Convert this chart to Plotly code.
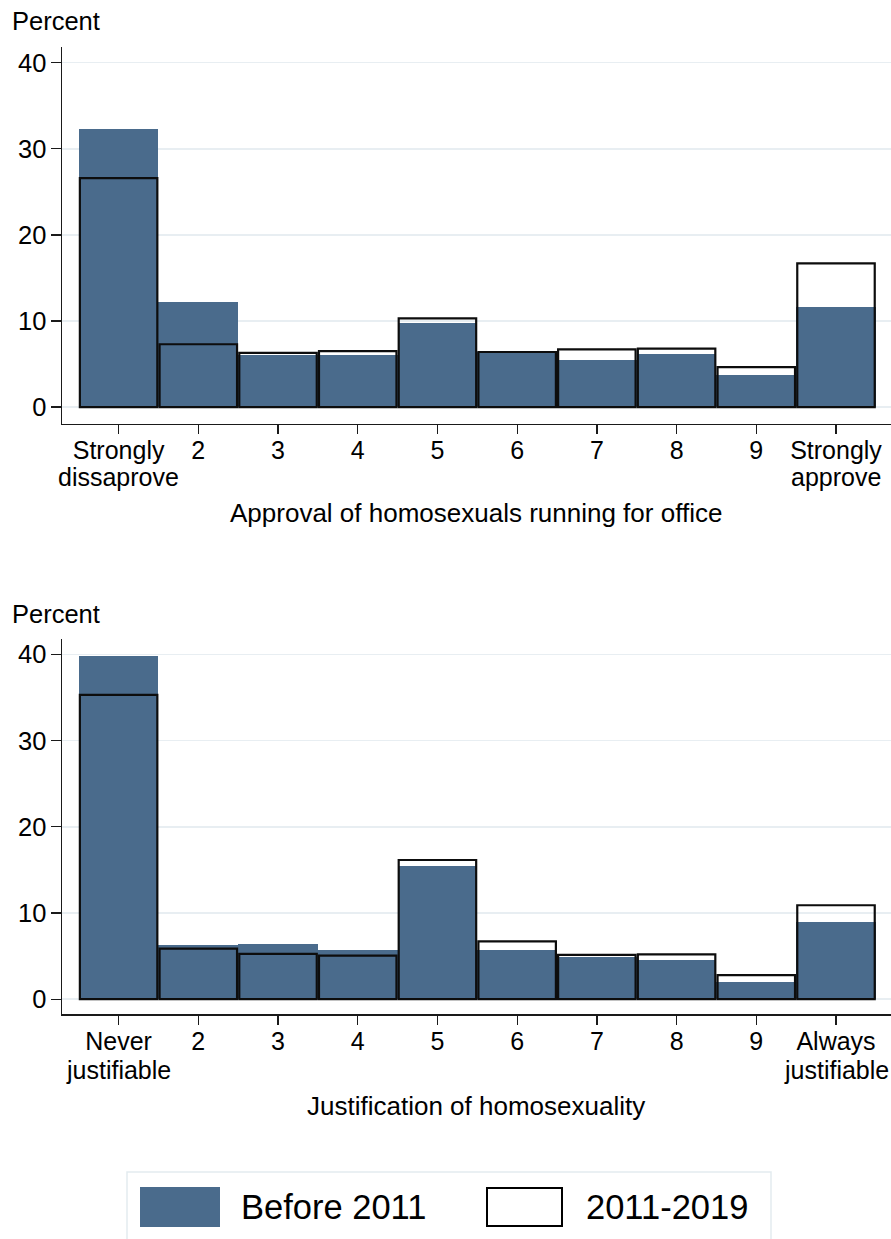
import plotly.graph_objects as go

# ---------------- data ----------------
categories = [1, 2, 3, 4, 5, 6, 7, 8, 9, 10]

office_before_2011 = [32.3, 12.2, 6.0, 6.1, 9.8, 6.35, 5.5, 6.2, 3.75, 11.6]
office_2011_2019 = [26.6, 7.3, 6.3, 6.5, 10.3, 6.4, 6.7, 6.8, 4.65, 16.7]

justif_before_2011 = [39.8, 6.26, 6.4, 5.7, 15.5, 5.7, 4.87, 4.55, 2.0, 8.96]
justif_2011_2019 = [35.3, 5.87, 5.25, 5.05, 16.15, 6.7, 5.15, 5.2, 2.8, 10.9]

office_ticks_line1 = ["Strongly", "2", "3", "4", "5", "6", "7", "8", "9", "Strongly"]
office_ticks_line2 = ["dissaprove", "", "", "", "", "", "", "", "", "approve"]
justif_ticks_line1 = ["Never", "2", "3", "4", "5", "6", "7", "8", "9", "Always"]
justif_ticks_line2 = ["justifiable", "", "", "", "", "", "", "", "", "justifiable"]

y_ticks = [0, 10, 20, 30, 40]
series_names = ["Before 2011", "2011-2019"]
x_titles = ["Approval of homosexuals running for office", "Justification of homosexuality"]
y_title = "Percent"

# ---------------- style ----------------
W, H = 891, 1239
FILL = "#4a6b8c"
GRID = "#e8eef2"
AX = "#1a1a1a"
FONT = "Liberation Sans, Arial, sans-serif"
FS = 25


def py(px):
    return 1 - px / H


def px_x(px):
    return px / W


fig = go.Figure()

panels = [
    (office_before_2011, office_2011_2019, "x", "y"),
    (justif_before_2011, justif_2011_2019, "x2", "y2"),
]
for before, after, xa, ya in panels:
    fig.add_trace(go.Bar(
        x=categories, y=before, width=1.0, name=series_names[0],
        marker=dict(color=FILL, line=dict(width=0)),
        xaxis=xa, yaxis=ya, showlegend=False,
    ))
    fig.add_trace(go.Bar(
        x=categories, y=after, width=0.972, name=series_names[1],
        marker=dict(color="rgba(0,0,0,0)", line=dict(color="#0d0d0d", width=2.2)),
        xaxis=xa, yaxis=ya, showlegend=False,
    ))

xdom = [px_x(62), 1.0]
top_dom = [py(423.5), py(46.7)]
bot_dom = [py(1014.3), py(639.3)]

xcommon = dict(
    range=[0.29, 10.69], showline=True, linecolor=AX, linewidth=1.5,
    ticks="outside", ticklen=9, tickwidth=1.3, tickcolor=AX,
    tickvals=categories, showgrid=False, zeroline=False,
    tickfont=dict(family=FONT, size=FS, color="black"), fixedrange=True,
    ticklabelstandoff=-5,
)
ycommon = dict(
    showline=True, linecolor=AX, linewidth=1.5,
    ticks="outside", ticklen=10, tickwidth=1.3, tickcolor=AX,
    tickvals=y_ticks, showgrid=True, gridcolor=GRID, gridwidth=1.5,
    zeroline=False, tickfont=dict(family=FONT, size=FS + 0.5, color="black"),
    ticklabelstandoff=-1,
)

fig.update_layout(
    width=W, height=H,
    margin=dict(l=0, r=0, t=0, b=0),
    paper_bgcolor="white", plot_bgcolor="white",
    barmode="overlay", bargap=0,
    font=dict(family=FONT, size=FS, color="black"),
    xaxis=dict(domain=xdom, anchor="y", ticktext=office_ticks_line1, **xcommon),
    yaxis=dict(domain=top_dom, anchor="x", range=[-1.9, 41.85], **ycommon),
    xaxis2=dict(domain=xdom, anchor="y2", ticktext=justif_ticks_line1, **xcommon),
    yaxis2=dict(domain=bot_dom, anchor="x2", range=[-1.75, 41.75], **ycommon),
)

annotations = []
offset = 592.6
for k, (line2, xt) in enumerate([(office_ticks_line2, x_titles[0]), (justif_ticks_line2, x_titles[1])]):
    dy = offset * k
    xr = "x" if k == 0 else "x2"
    annotations.append(dict(text=y_title, x=px_x(10), y=py(21 + dy), xref="paper", yref="paper",
                            xanchor="left", yanchor="middle", showarrow=False,
                            font=dict(family=FONT, size=25.5, color="black")))
    for c, t in zip(categories, line2):
        if t:
            annotations.append(dict(text=t, x=c, y=py(477 + dy), xref=xr, yref="paper",
                                    xanchor="center", yanchor="middle", showarrow=False,
                                    font=dict(family=FONT, size=FS, color="black")))
    annotations.append(dict(text=xt, x=(xdom[0] + xdom[1]) / 2, y=py(513 + dy), xref="paper", yref="paper",
                            xanchor="center", yanchor="middle", showarrow=False,
                            font=dict(family=FONT, size=26, color="black")))

# legend (drawn manually to match large swatches)
annotations.append(dict(text=series_names[0], x=px_x(239), y=py(1207), xref="paper", yref="paper",
                        xanchor="left", yanchor="middle", showarrow=False,
                        font=dict(family=FONT, size=34.5, color="black")))
annotations.append(dict(text=series_names[1], x=px_x(584), y=py(1207), xref="paper", yref="paper",
                        xanchor="left", yanchor="middle", showarrow=False,
                        font=dict(family=FONT, size=34.5, color="black")))

shapes = [
    dict(type="rect", xref="paper", yref="paper", x0=px_x(127), x1=px_x(771), y0=py(1250), y1=py(1172),
         line=dict(color="#e3ebf0", width=1.5), fillcolor="white", layer="below"),
    dict(type="rect", xref="paper", yref="paper", x0=px_x(140), x1=px_x(220), y0=py(1227), y1=py(1187),
         line=dict(width=0), fillcolor=FILL),
    dict(type="rect", xref="paper", yref="paper", x0=px_x(487), x1=px_x(562), y0=py(1226), y1=py(1188),
         line=dict(color="black", width=2), fillcolor="white"),
]

fig.update_layout(annotations=annotations, shapes=shapes)

fig.write_html(
    "out.html",
    config={"displayModeBar": False, "staticPlot": True},
    post_script="document.body.style.margin='0';document.body.style.overflow='hidden';",
)
